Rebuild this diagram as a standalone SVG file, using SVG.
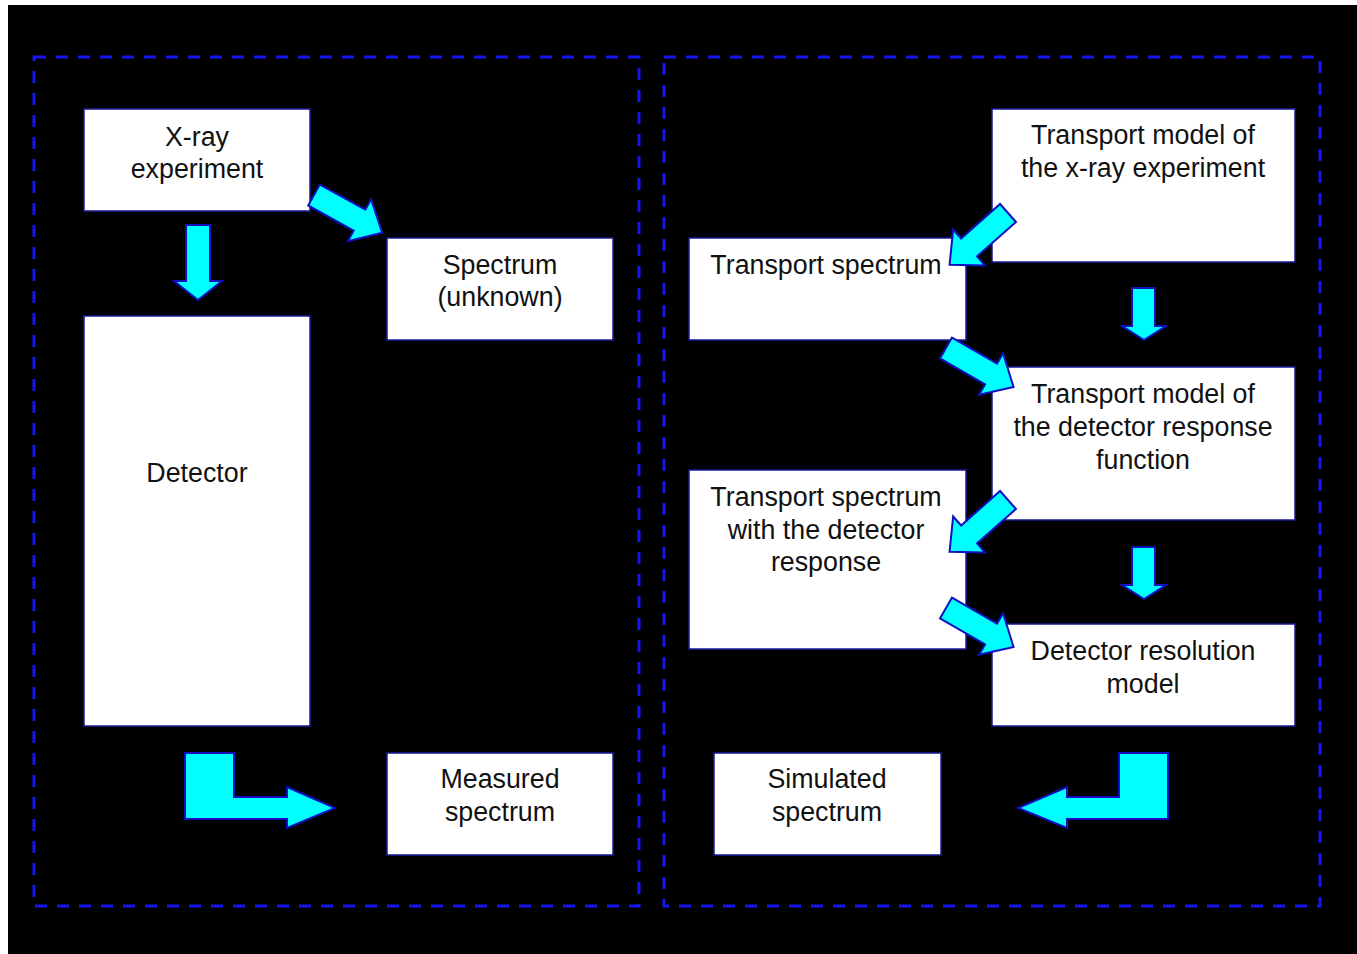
<svg xmlns="http://www.w3.org/2000/svg" width="1357" height="954" viewBox="0 0 1357 954">
<defs>
<style>
.frame{fill:none;stroke:#1515f0;stroke-width:3;stroke-dasharray:12 10}
.box{fill:#ffffff;stroke:#1a1a9a;stroke-width:1.5}
.arr{fill:#00ffff;stroke:#1010c0;stroke-width:2;stroke-linejoin:miter}
text{font-family:"Liberation Sans",Arial,sans-serif;font-size:26.8px;fill:#111111;text-anchor:middle}
</style>
<polygon id="diag" points="0,-12 52,-12 52,-24 78,0 52,24 52,12 0,12"/>
</defs>
<rect x="0" y="0" width="1357" height="954" fill="#ffffff"/>
<rect x="8" y="5" width="1349" height="949" fill="#000000"/>
<rect class="frame" x="34" y="57" width="605" height="849"/>
<rect class="frame" x="664" y="57" width="656" height="849"/>

<g id="xray"><rect class="box" x="84" y="109" width="226" height="102"/><text x="197" y="146">X-ray</text><text x="197" y="178">experiment</text></g>
<g id="spectrum"><rect class="box" x="387" y="238" width="226" height="102"/><text x="500" y="274">Spectrum</text><text x="500" y="306">(unknown)</text></g>
<g id="detector"><rect class="box" x="84" y="316" width="226" height="410"/><text x="197" y="482">Detector</text></g>
<g id="measured"><rect class="box" x="387" y="753" width="226" height="102"/><text x="500" y="788">Measured</text><text x="500" y="821">spectrum</text></g>
<g id="tmxray"><rect class="box" x="992" y="109" width="303" height="153"/><text x="1143" y="144">Transport model of</text><text x="1143" y="177">the x-ray experiment</text></g>
<g id="tspec"><rect class="box" x="689" y="238" width="277" height="102"/><text x="826" y="274">Transport spectrum</text></g>
<g id="tmdet"><rect class="box" x="992" y="367" width="303" height="153"/><text x="1143" y="403">Transport model of</text><text x="1143" y="436">the detector response</text><text x="1143" y="469">function</text></g>
<g id="tspecdet"><rect class="box" x="689" y="470" width="277" height="179"/><text x="826" y="506">Transport spectrum</text><text x="826" y="539">with the detector</text><text x="826" y="571">response</text></g>
<g id="resolution"><rect class="box" x="992" y="624" width="303" height="102"/><text x="1143" y="660">Detector resolution</text><text x="1143" y="693">model</text></g>
<g id="simulated"><rect class="box" x="714" y="753" width="227" height="102"/><text x="827" y="788">Simulated</text><text x="827" y="821">spectrum</text></g>

<g id="connectors">
<polygon class="arr" points="186,225 210,225 210,281 222,281 198,300 174,281 186,281"/>
<use href="#diag" class="arr" transform="translate(314,195) rotate(29)"/>
<polygon class="arr" points="185,753 234,753 234,797 287,797 287,787 335,808 287,828 287,819 185,819"/>
<use href="#diag" class="arr" transform="translate(1008,213) rotate(138.5)"/>
<polygon class="arr" points="1132,288 1155,288 1155,326 1166,326 1144,340 1122,326 1132,326"/>
<use href="#diag" class="arr" transform="translate(946,348) rotate(30)"/>
<use href="#diag" class="arr" transform="translate(1008,500) rotate(138.5)"/>
<polygon class="arr" points="1132,547 1155,547 1155,585 1166,585 1144,599 1122,585 1132,585"/>
<use href="#diag" class="arr" transform="translate(946,608) rotate(30)"/>
<polygon class="arr" points="1168,753 1119,753 1119,797 1067,797 1067,787 1018,808 1067,828 1067,819 1168,819"/>
</g>
</svg>
